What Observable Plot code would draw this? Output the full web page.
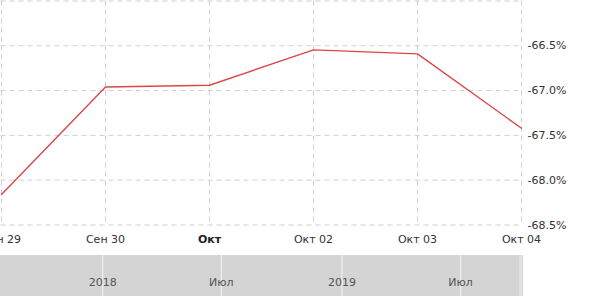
<!DOCTYPE html>
<html>
<head>
<meta charset="utf-8">
<script src="https://cdn.jsdelivr.net/npm/d3@7"></script>
<script src="https://cdn.jsdelivr.net/npm/@observablehq/plot@0.6"></script>
<style>
  html, body { margin: 0; padding: 0; background: #fff; }
  #chart { width: 593px; height: 305px; overflow: hidden; }
  svg { display: block; }
</style>
</head>
<body>
<div id="chart"></div>
<script>
// ---- data ----
const dates = ["2019-09-29", "2019-09-30", "2019-10-01", "2019-10-02", "2019-10-03", "2019-10-04"];
const values = [-68.16, -66.96, -66.94, -66.545, -66.59, -67.42];
const xTickLabels = ["Сен 29", "Сен 30", "Окт", "Окт 02", "Окт 03", "Окт 04"];
const boldTick = "2019-10-01";
const yGridValues = [-66.0, -66.5, -67.0, -67.5, -68.0, -68.5];
const yTickValues = [-66.5, -67.0, -67.5, -68.0, -68.5];
const yDomain = [-68.5, -66.0];

// navigator
const navDomain = ["2017-07-29", "2019-10-05"];
const navTicks = ["2018-01-01", "2018-07-01", "2019-01-01", "2019-07-01"];
const navTickLabels = ["2018", "Июл", "2019", "Июл"];
const navSelection = ["2019-09-29", "2019-10-04"];

// ---- build ----
const font = "DejaVu Sans, Verdana, sans-serif";
const labelOf = new Map(dates.map((d, i) => [d, xTickLabels[i]]));
const rows = dates.map((d, i) => ({date: d, value: values[i]}));
const normalTicks = dates.filter(d => d !== boldTick);

const main = Plot.plot({
  width: 593,
  height: 250,
  marginLeft: 0.5,
  marginRight: 71,
  marginTop: 0.5,
  marginBottom: 25.5,
  style: {fontFamily: font, fontSize: "11px", color: "#333", background: "#fff"},
  x: {type: "point", domain: dates, padding: 0, label: null},
  y: {domain: yDomain, label: null},
  marks: [
    Plot.ruleY(yGridValues, {stroke: "#cfcfcf", strokeDasharray: "5,4", strokeWidth: 1}),
    Plot.ruleX(dates, {stroke: "#cfcfcf", strokeDasharray: "5,4", strokeWidth: 1}),
    Plot.line(rows, {x: "date", y: "value", stroke: "#d94848", strokeWidth: 1.4}),
    Plot.axisY(yTickValues, {anchor: "right", tickSize: 0, tickPadding: 5, label: null,
      tickFormat: d => d.toFixed(1) + "%", fill: "#333"}),
    Plot.axisX(normalTicks, {anchor: "bottom", tickSize: 0, tickPadding: 10, label: null,
      tickFormat: d => labelOf.get(d), fill: "#333"}),
    Plot.axisX([boldTick], {anchor: "bottom", tickSize: 0, tickPadding: 10, label: null,
      tickFormat: d => labelOf.get(d), fontWeight: "bold", fill: "#222"})
  ]
});

const parse = d3.utcParse("%Y-%m-%d");
const nav = Plot.plot({
  width: 593,
  height: 55,
  marginLeft: 0,
  marginRight: 70,
  marginTop: 5,
  marginBottom: 9,
  style: {fontFamily: font, fontSize: "11px", background: "#fff"},
  x: {type: "utc", domain: navDomain.map(parse), axis: null},
  y: {axis: null},
  marks: [
    Plot.rect([{x1: parse(navDomain[0]), x2: parse(navDomain[1])}], {x1: "x1", x2: "x2", fill: "#d4d4d4"}),
    Plot.rect([{x1: parse(navSelection[0]), x2: parse(navSelection[1])}], {x1: "x1", x2: "x2", fill: "#e2e2e2"}),
    Plot.ruleX(navTicks.map(parse), {stroke: "#f0f0f0", strokeWidth: 1.2}),
    Plot.text(navTicks.map(parse), {x: d => d, text: (d, i) => navTickLabels[i],
      frameAnchor: "bottom", dy: -11, fill: "#555", fontSize: 11})
  ]
});

const root = document.getElementById("chart");
root.appendChild(main);
root.appendChild(nav);
</script>
</body>
</html>
